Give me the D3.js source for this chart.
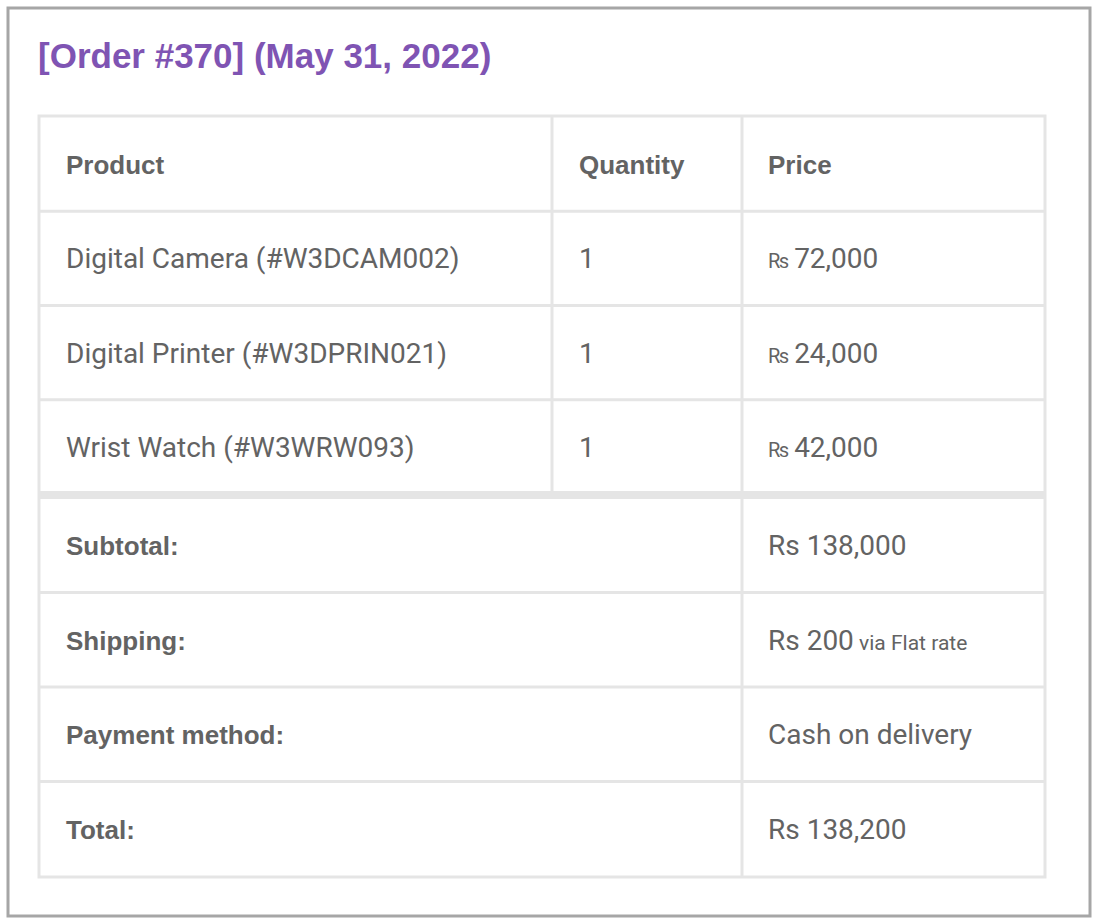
<!DOCTYPE html><html><head><meta charset="utf-8">
<script src="https://cdn.jsdelivr.net/npm/d3@7"></script>
<style>body{margin:0;background:#fff}</style></head><body>
<svg id="c" width="1098" height="924"></svg>
<script>
const title = "[Order #370] (May 31, 2022)";
const headers = ["Product","Quantity","Price"];
const products = ["Digital Camera (#W3DCAM002)","Digital Printer (#W3DPRIN021)","Wrist Watch (#W3WRW093)"];
const quantities = [1,1,1];
const prices = ["72,000","24,000","42,000"];
const totalLabels = ["Subtotal:","Shipping:","Payment method:","Total:"];
const totalValues = ["Rs 138,000","Rs 200","Cash on delivery","Rs 138,200"];
const totalNotes = ["", " via Flat rate", "", ""];

const svg = d3.select("#c");
const F = "Roboto, 'Liberation Sans', sans-serif";
const B = "'Liberation Sans', Arial, sans-serif";
const col = "#636363", line = "#e5e5e5";
svg.append("rect").attr("x",8).attr("y",8).attr("width",1082).attr("height",908).attr("fill","#fff").attr("stroke","#a6a6a6").attr("stroke-width",3);
svg.append("text").attr("x",38).attr("y",68).attr("font-family",B).attr("font-weight","bold").attr("font-size",35).attr("fill","#7f54b3").text(title);

const rowsY = d3.scaleLinear().domain([0,4]).range([117,494]);
const totY = d3.scaleLinear().domain([0,4]).range([498,876]);
const g = svg.append("g");
g.append("rect").attr("x",39).attr("y",116).attr("width",1006).attr("height",761).attr("fill","none").attr("stroke",line).attr("stroke-width",3);
for(let i=1;i<=3;i++) g.append("line").attr("x1",40).attr("x2",1044).attr("y1",rowsY(i)).attr("y2",rowsY(i)).attr("stroke",line).attr("stroke-width",3);
g.append("rect").attr("x",40).attr("y",491).attr("width",1004).attr("height",8).attr("fill",line);
for(let i=1;i<=3;i++) g.append("line").attr("x1",40).attr("x2",1044).attr("y1",totY(i)).attr("y2",totY(i)).attr("stroke",line).attr("stroke-width",3);
g.append("line").attr("x1",552).attr("x2",552).attr("y1",117).attr("y2",492).attr("stroke",line).attr("stroke-width",3);
g.append("line").attr("x1",742).attr("x2",742).attr("y1",117).attr("y2",876).attr("stroke",line).attr("stroke-width",3);

const tx=[66,579,768];
const mid = (s,i)=> (s(i)+s(i+1))/2+10;
headers.forEach((h,j)=>g.append("text").attr("x",tx[j]).attr("y",mid(rowsY,0)).attr("font-family",B).attr("font-weight","bold").attr("font-size",26).attr("fill",col).text(h));
products.forEach((p,i)=>{
  const y=mid(rowsY,i+1);
  g.append("text").attr("x",tx[0]).attr("y",y).attr("font-family",F).attr("font-size",28).attr("fill",col).text(p);
  g.append("text").attr("x",tx[1]).attr("y",y).attr("font-family",F).attr("font-size",28).attr("fill",col).text(quantities[i]);
  const t=g.append("text").attr("x",tx[2]).attr("y",y).attr("font-family",F).attr("fill",col);
  t.append("tspan").attr("font-size",20).text("₨ ");
  t.append("tspan").attr("font-size",28).text(prices[i]);
});
totalLabels.forEach((l,i)=>{
  const y=mid(totY,i);
  g.append("text").attr("x",tx[0]).attr("y",y).attr("font-family",B).attr("font-weight","bold").attr("font-size",26).attr("fill",col).text(l);
  const t=g.append("text").attr("x",tx[2]).attr("y",y).attr("font-family",F).attr("fill",col);
  t.append("tspan").attr("font-size",28).text(totalValues[i]);
  if(totalNotes[i]) t.append("tspan").attr("font-size",21).text(totalNotes[i]);
});
</script></body></html>
